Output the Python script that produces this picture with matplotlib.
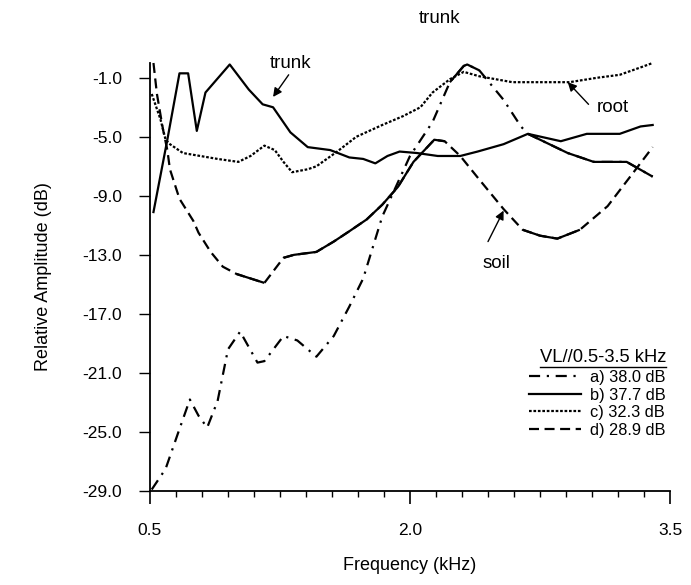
import numpy as np
import matplotlib
matplotlib.use("Agg")
import matplotlib.pyplot as plt
from matplotlib.lines import Line2D

plt.rc("font", family=["Liberation Sans", "DejaVu Sans"], size=12)

# a) dash-dot, 38.0 dB (trunk, peak near 2.3 kHz)
freq_a = [0.51, 0.59, 0.67, 0.73, 0.78, 0.83, 0.89, 0.95, 1.02, 1.12, 1.16, 1.27, 1.35,
          1.46, 1.56, 1.65, 1.73, 1.84, 2.00, 2.13, 2.23, 2.31, 2.33, 2.40, 2.54, 2.64,
          2.68, 2.91, 3.06, 3.25, 3.40]
amp_a = [-28.9, -27.5, -24.8, -22.8, -23.9, -24.7, -22.9, -19.4, -18.2, -20.3, -20.2, -18.5, -18.8,
         -19.9, -18.5, -16.5, -14.6, -10.4, -6.3, -4.0, -1.3, -0.2, -0.1, -0.5, -2.5, -4.3,
         -4.8, -6.1, -6.7, -6.7, -7.7]

# b) solid, 37.7 dB (trunk, low frequencies)
freq_b = [0.52, 0.60, 0.67, 0.72, 0.77, 0.82, 0.96, 1.07, 1.15, 1.21, 1.31, 1.41, 1.54,
          1.65, 1.73, 1.80, 1.87, 1.94, 2.04, 2.16, 2.29, 2.39, 2.54, 2.68, 2.87, 3.02,
          3.21, 3.33, 3.40]
amp_b = [-10.1, -5.2, -0.7, -0.7, -4.6, -2.0, -0.1, -1.8, -2.8, -3.0, -4.7, -5.7, -5.9,
         -6.4, -6.5, -6.8, -6.3, -6.0, -6.1, -6.3, -6.3, -6.0, -5.5, -4.8, -5.3, -4.8,
         -4.8, -4.3, -4.2]

# c) dotted, 32.3 dB (root)
freq_c = [0.51, 0.56, 0.59, 0.615, 0.69, 0.79, 0.89, 1.01, 1.08, 1.16, 1.22, 1.27, 1.32,
          1.41, 1.46, 1.58, 1.69, 1.84, 1.96, 2.06, 2.13, 2.23, 2.31, 2.40, 2.59, 2.79,
          2.92, 3.08, 3.21, 3.33, 3.40]
amp_c = [-2.1, -3.8, -5.2, -5.5, -6.1, -6.3, -6.5, -6.7, -6.3, -5.6, -5.9, -6.7, -7.4,
         -7.2, -7.0, -6.0, -5.0, -4.2, -3.6, -3.0, -2.0, -1.1, -0.6, -0.9, -1.3, -1.3,
         -1.3, -1.0, -0.8, -0.3, 0.0]

# d) dashed, 28.9 dB (soil)
freq_d = [0.52, 0.54, 0.575, 0.60, 0.615, 0.67, 0.75, 0.78, 0.85, 0.92, 1.00, 1.16, 1.27,
          1.33, 1.46, 1.56, 1.65, 1.75, 1.84, 1.93, 2.02, 2.10, 2.14, 2.20, 2.29, 2.40,
          2.54, 2.65, 2.75, 2.85, 2.98, 3.14, 3.29, 3.40]
amp_d = [0.0, -2.1, -4.5, -5.9, -7.2, -9.2, -10.7, -11.5, -12.8, -13.8, -14.3, -14.9, -13.2,
         -13.0, -12.8, -12.1, -11.4, -10.6, -9.6, -8.4, -6.7, -5.7, -5.2, -5.3, -6.3, -7.9,
         -9.9, -11.3, -11.7, -11.9, -11.3, -9.7, -7.4, -5.7]

# frequency spans where the dashed curves print as solid in the scan (dense points)
solid_spans_a = [(2.23, 2.40), (2.68, 3.40)]
solid_spans_d = [(1.00, 1.16), (1.27, 2.20), (2.65, 2.98)]

legend_labels = ["a) 38.0 dB", "b) 37.7 dB", "c) 32.3 dB", "d) 28.9 dB"]
legend_title = "VL//0.5-3.5 kHz"

x_major = [0.5, 2.0, 3.5]
y_major = [-1, -5, -9, -13, -17, -21, -25, -29]

styles = [(0, (5, 3, 1, 3)), "-", (0, (1.2, 0.8)), (0, (4.5, 2.5))]
lw = 1.6

fig = plt.figure(figsize=(6.91, 5.85), dpi=100)
ax = fig.add_axes([150/691, 94/585, 520/691, 428/585])

series = [(freq_a, amp_a), (freq_b, amp_b), (freq_c, amp_c), (freq_d, amp_d)]
for (f, a), ls in zip(series, styles):
    ax.plot(f, a, color="black", lw=lw, linestyle=ls, clip_on=False)

for (f, a), spans in [((freq_a, amp_a), solid_spans_a), ((freq_d, amp_d), solid_spans_d)]:
    f = np.array(f)
    a = np.array(a)
    for lo, hi in spans:
        m = (f >= lo - 1e-9) & (f <= hi + 1e-9)
        ax.plot(f[m], a[m], color="black", lw=lw, solid_capstyle="butt", clip_on=False)

ax.set_xlim(0.5, 3.5)
ax.set_ylim(-29, 0)
ax.set_xticks(x_major)
ax.set_xticklabels(["%.1f" % v for v in x_major])
ax.set_xticks(np.arange(0.5, 3.5001, 0.15), minor=True)
ax.set_yticks(y_major)
ax.set_yticklabels(["-%.1f" % abs(v) for v in y_major])
ax.tick_params(axis="x", which="major", direction="out", length=9, width=1.2, pad=14, labelsize=12.5)
ax.tick_params(axis="x", which="minor", direction="out", length=4, width=1.0)
ax.tick_params(axis="y", which="major", direction="out", length=8, width=1.0, pad=12, labelsize=12.5)
for s in ["top", "right"]:
    ax.spines[s].set_visible(False)
ax.spines["left"].set_linewidth(1.3)
ax.spines["bottom"].set_linewidth(1.3)

ax.set_xlabel("Frequency (kHz)", fontsize=13, labelpad=14)
ax.set_ylabel("Relative Amplitude (dB)", fontsize=13, labelpad=22)

# labels with arrows
arrow = dict(arrowstyle="-|>", color="black", lw=1.0, mutation_scale=13, shrinkA=0, shrinkB=0)
ax.text(1.31, 0.0, "trunk", fontsize=13.5, ha="center", va="center")
ax.annotate("", xy=(1.21, -2.3), xytext=(1.30, -0.8), arrowprops=arrow)
ax.text(2.17, 3.0, "trunk", fontsize=13.5, ha="center", va="center")
ax.annotate("", xy=(2.31, 0.4), xytext=(2.22, 2.2), arrowprops=arrow)
ax.text(3.17, -3.0, "root", fontsize=13.5, ha="center", va="center")
ax.annotate("", xy=(2.91, -1.3), xytext=(3.03, -2.8), arrowprops=arrow)
ax.text(2.50, -13.6, "soil", fontsize=13.5, ha="center", va="center")
ax.annotate("", xy=(2.54, -10.0), xytext=(2.45, -12.1), arrowprops=arrow)

handles = [Line2D([], [], color="black", lw=lw, linestyle=ls) for ls in styles]
leg = ax.legend(handles, legend_labels, title=legend_title, loc="upper right",
                bbox_to_anchor=(666/691, (585-349)/585), bbox_transform=fig.transFigure,
                frameon=False, alignment="right", handlelength=3.2, handletextpad=0.55,
                labelspacing=0.15, borderpad=0, borderaxespad=0, fontsize=11.8,
                title_fontsize=13.2)
leg._legend_box.sep = 3

fig.canvas.draw()
tb = leg.get_title().get_window_extent()
inv = fig.transFigure.inverted()
(x0, y0), (x1, y1) = inv.transform([(tb.x0, tb.y0 - 1), (tb.x1, tb.y0 - 1)])
fig.add_artist(Line2D([x0, x1], [y0, y1], color="black", lw=1.0, transform=fig.transFigure))

fig.savefig("out.png", dpi=100)
